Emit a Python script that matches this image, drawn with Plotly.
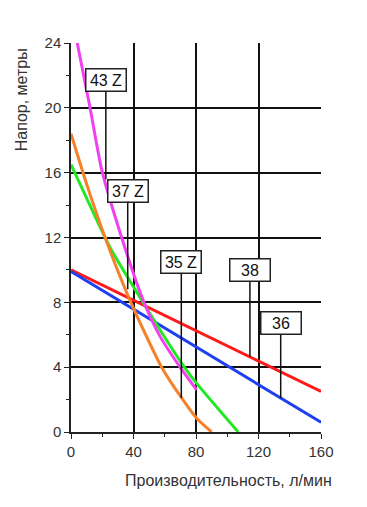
import plotly.graph_objects as go

# Pump curves (flow l/min, head m)
x38 = [0, 160]
y38 = [10.0, 2.5]
x36 = [0, 160]
y36 = [9.9, 0.6]
x35z = [0, 15.4, 26, 41, 55, 72.5, 80.4, 107]
y35z = [16.5, 13.3, 11.2, 8.8, 6.6, 4.0, 3.0, 0.0]
x37z = [0, 10, 21.8, 38.3, 58, 70.8, 80.4, 90]
y37z = [18.4, 15.3, 12.0, 8.0, 4.0, 2.1, 0.85, 0.0]
x43z = [4, 12.2, 19.6, 32.4, 46.3, 57, 69.8, 80.4]
y43z = [24, 20, 16.2, 12.0, 8.1, 5.9, 4.0, 2.6]

series = [
    ("38", x38, y38, "#FF1A1A"),
    ("36", x36, y36, "#1E40F0"),
    ("35 Z", x35z, y35z, "#22E822"),
    ("37 Z", x37z, y37z, "#F5822A"),
    ("43 Z", x43z, y43z, "#F040F0"),
]

# Labels: text, box centre (x, y), leader end (x, y)
label_text = ["43 Z", "37 Z", "35 Z", "38", "36"]
label_box_x = [22.3, 36.3, 70.6, 114.5, 134.2]
label_box_y = [21.7, 14.9, 10.5, 9.98, 6.7]
label_tip_x = [22.3, 36.3, 70.6, 114.5, 134.2]
label_tip_y = [15.6, 8.8, 2.1, 4.65, 2.1]

x_ticks = [0, 40, 80, 120, 160]
y_ticks = [0, 4, 8, 12, 16, 20, 24]

FONT = "Liberation Sans, Arial"

fig = go.Figure()
for name, xs, ys, col in series:
    fig.add_trace(go.Scatter(x=xs, y=ys, mode="lines", name=name,
                             line=dict(color=col, width=3, shape="spline", smoothing=0.6),
                             showlegend=False))

for t, bx, by, tx, ty in zip(label_text, label_box_x, label_box_y, label_tip_x, label_tip_y):
    fig.add_annotation(x=tx, y=ty, ax=bx, ay=by, axref="x", ayref="y", xref="x", yref="y",
                       text=t, showarrow=True, arrowhead=0, arrowwidth=1.5, arrowcolor="#111",
                       bgcolor="white", bordercolor="#222", borderwidth=1.5, borderpad=2,
                       width=35, height=17,
                       font=dict(family=FONT, size=16, color="#111"))

fig.add_annotation(x=0.628, y=0, xref="paper", yref="paper", xanchor="center", yanchor="middle",
                   yshift=-48, text="Производительность, л/мин", showarrow=False,
                   font=dict(family=FONT, size=16, color="#333"))
fig.add_annotation(x=-0.2, y=0.853, xref="paper", yref="paper", xanchor="center", yanchor="middle",
                   textangle=-90, text="Напор, метры", showarrow=False,
                   font=dict(family=FONT, size=16, color="#333"))

axis_common = dict(showline=True, linecolor="#222", linewidth=1.5, showgrid=True,
                   gridcolor="#111", gridwidth=1.5, zeroline=False, ticks="outside",
                   ticklen=5, tickwidth=1.2, tickcolor="#222", automargin=False,
                   tickfont=dict(family=FONT, size=15, color="#333"),
                   minor=dict(ticks="outside", ticklen=3, tickcolor="#222", tickwidth=1, showgrid=False))

fig.update_xaxes(range=[0, 160], tickvals=x_ticks, **axis_common)
fig.update_xaxes(minor_dtick=20)
fig.update_yaxes(range=[0, 24], tickvals=y_ticks, **axis_common)
fig.update_yaxes(minor_dtick=2)

fig.update_layout(width=367, height=507, margin=dict(l=63, r=54, t=35, b=83),
                  plot_bgcolor="white", paper_bgcolor="white")

fig.write_html("out.html")
